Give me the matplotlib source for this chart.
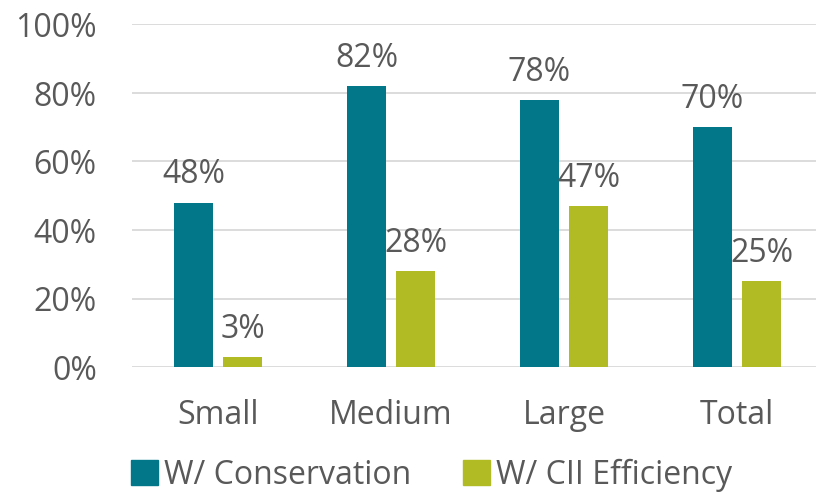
import numpy as np
import matplotlib.pyplot as plt
from matplotlib.patches import Patch

categories = ['Small', 'Medium', 'Large', 'Total']
conservation = [48, 82, 78, 70]
cii_efficiency = [3, 28, 47, 25]
series_names = ['W/ Conservation', 'W/ CII Efficiency']
yticks = [0, 20, 40, 60, 80, 100]

teal = '#02778A'
lime = '#B1BC24'
grey = '#595959'
fs = 23

plt.rcParams['font.family'] = ['Open Sans', 'DejaVu Sans']

fig = plt.figure(figsize=(8.16, 4.94), dpi=100)
ax = fig.add_axes([131.5 / 816, 127 / 494, 692 / 816, 342.5 / 494])

x = np.arange(len(categories))
w = 0.225
off = 0.1416
b1 = ax.bar(x - off, conservation, w, color=teal, zorder=3)
b2 = ax.bar(x + off, cii_efficiency, w, color=lime, zorder=3)

for bars, vals in ((b1, conservation), (b2, cii_efficiency)):
    for rect, v in zip(bars, vals):
        ax.annotate(f'{v}%', (rect.get_x() + rect.get_width() / 2, v),
                    xytext=(0, 8), textcoords='offset points',
                    ha='center', va='bottom', fontsize=fs, color=grey,
                    annotation_clip=False)

ax.set_xlim(-0.5, 3.5)
ax.set_ylim(0, 100)
ax.set_yticks(yticks)
ax.set_yticklabels([f'{t}%' for t in yticks])
ax.set_xticks(x)
ax.set_xticklabels(categories)
ax.tick_params(axis='y', length=0, pad=25, labelsize=fs, labelcolor=grey)
ax.tick_params(axis='x', length=0, pad=23, labelsize=fs, labelcolor=grey)
ax.grid(axis='y', color='#D9D9D9', linewidth=1.3, zorder=0)
ax.set_axisbelow(True)
for s in ax.spines.values():
    s.set_visible(False)

handles = [Patch(color=teal), Patch(color=lime)]
fig.legend(handles, series_names, loc='center', bbox_to_anchor=(0.529, 1 - 475 / 494),
           ncol=2, frameon=False, fontsize=fs, labelcolor=grey,
           handlelength=0.85, handleheight=0.85, handletextpad=0.2,
           columnspacing=1.6, borderpad=0)

fig.savefig('out.png', dpi=100)
